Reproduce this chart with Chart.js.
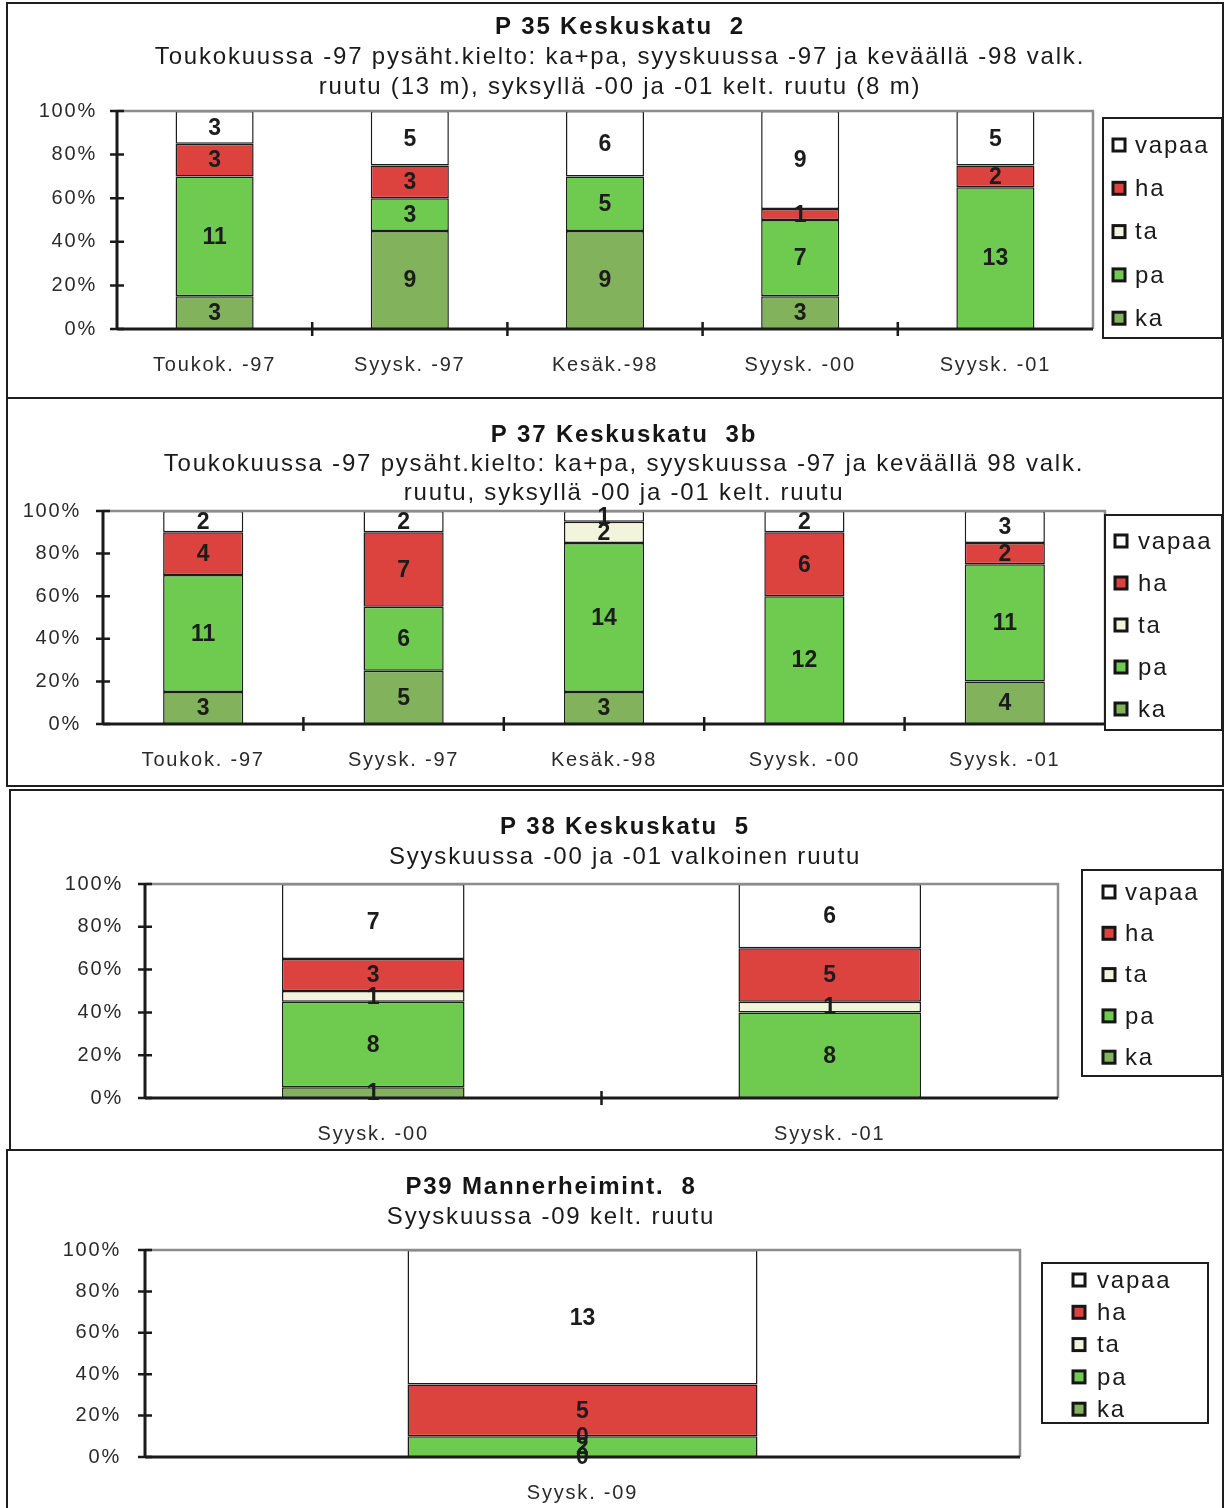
<!DOCTYPE html>
<html>
<head>
<meta charset="utf-8">
<script src="https://cdn.jsdelivr.net/npm/chart.js@4.4.0/dist/chart.umd.min.js"></script>
<style>
  body { margin: 0; background: #fff; width: 1224px; height: 1508px; overflow: hidden; position: relative; }
  .panel { position: absolute; box-sizing: border-box; border: 2px solid #1e1e1e; background: #fff; }
  .panel canvas { position: absolute; left: 0; top: 0; }
</style>
</head>
<body>
<div class="panel" style="left:6px;top:2px;width:1218px;height:398px"><canvas id="c35" width="1214" height="394"></canvas></div>
<div class="panel" style="left:6px;top:397px;width:1218px;height:390px"><canvas id="c37" width="1214" height="386"></canvas></div>
<div class="panel" style="left:9px;top:789px;width:1215px;height:363px"><canvas id="c38" width="1211" height="359"></canvas></div>
<div class="panel" style="left:6px;top:1149px;width:1218px;height:361px"><canvas id="c39" width="1214" height="357"></canvas></div>
<script>
// Vehicle counts per survey, stacked bottom-up: ka, pa, ta, ha, vapaa
const seriesLabels = ['ka', 'pa', 'ta', 'ha', 'vapaa'];
const seriesColors = ['#82b25c', '#6ecb50', '#f3f4dc', '#dc433e', '#ffffff'];
const yTickLabels = ['0%', '20%', '40%', '60%', '80%', '100%'];

// P 35 Keskuskatu 2
const p35Title = 'P 35 Keskuskatu  2';
const p35Subtitle = ['Toukokuussa -97 pysäht.kielto: ka+pa, syyskuussa -97 ja keväällä -98 valk.',
                     'ruutu (13 m), syksyllä -00 ja -01 kelt. ruutu (8 m)'];
const p35Categories = ['Toukok. -97', 'Syysk. -97', 'Kesäk.-98', 'Syysk. -00', 'Syysk. -01'];
const p35Ka = [3, 9, 9, 3, null];
const p35Pa = [11, 3, 5, 7, 13];
const p35Ta = [null, null, null, null, null];
const p35Ha = [3, 3, null, 1, 2];
const p35Vapaa = [3, 5, 6, 9, 5];

// P 37 Keskuskatu 3b
const p37Title = 'P 37 Keskuskatu  3b';
const p37Subtitle = ['Toukokuussa -97 pysäht.kielto: ka+pa, syyskuussa -97 ja keväällä 98 valk.',
                     'ruutu, syksyllä -00 ja -01 kelt. ruutu'];
const p37Categories = ['Toukok. -97', 'Syysk. -97', 'Kesäk.-98', 'Syysk. -00', 'Syysk. -01'];
const p37Ka = [3, 5, 3, null, 4];
const p37Pa = [11, 6, 14, 12, 11];
const p37Ta = [null, null, 2, null, null];
const p37Ha = [4, 7, null, 6, 2];
const p37Vapaa = [2, 2, 1, 2, 3];

// P 38 Keskuskatu 5
const p38Title = 'P 38 Keskuskatu  5';
const p38Subtitle = ['Syyskuussa -00 ja -01 valkoinen ruutu'];
const p38Categories = ['Syysk. -00', 'Syysk. -01'];
const p38Ka = [1, null];
const p38Pa = [8, 8];
const p38Ta = [1, 1];
const p38Ha = [3, 5];
const p38Vapaa = [7, 6];

// P39 Mannerheimint. 8
const p39Title = 'P39 Mannerheimint.  8';
const p39Subtitle = ['Syyskuussa -09 kelt. ruutu'];
const p39Categories = ['Syysk. -09'];
const p39Ka = [0];
const p39Pa = [2];
const p39Ta = [0];
const p39Ha = [5];
const p39Vapaa = [13];

Chart.defaults.font.family = '"Liberation Sans", Arial, sans-serif';
Chart.defaults.color = '#222';

const SPACING = '1.8px';
const spacingPlugin = {
  id: 'spacing',
  beforeInit(c) { c.ctx.letterSpacing = SPACING; },
  beforeLayout(c) { c.ctx.letterSpacing = SPACING; },
  beforeDraw(c) { c.ctx.letterSpacing = SPACING; }
};

// Re-centre the title and subtitle blocks on a given x position
const titleCentre = {
  id: 'titleCentre',
  afterLayout(c, args, o) {
    c.boxes.forEach(b => {
      if (b.options && typeof b.options.text !== 'undefined' && b.position === 'top') {
        const w = b.right - b.left;
        b.left = o.cx - w / 2;
        b.right = o.cx + w / 2;
      }
    });
  }
};

// Plot frame, axis lines and crossing tick marks
const axesPlugin = {
  id: 'axesFrame',
  afterDatasetsDraw(c) {
    const { ctx, chartArea: a, scales } = c;
    const n = c.data.labels.length;
    ctx.save();
    ctx.strokeStyle = '#8c8c8c';
    ctx.lineWidth = 2.5;
    ctx.beginPath();
    ctx.moveTo(a.left, a.top); ctx.lineTo(a.right, a.top); ctx.lineTo(a.right, a.bottom);
    ctx.stroke();
    ctx.strokeStyle = '#1a1a1a';
    ctx.lineWidth = 3;
    ctx.beginPath();
    ctx.moveTo(a.left, a.top - 1); ctx.lineTo(a.left, a.bottom);
    ctx.moveTo(a.left, a.bottom); ctx.lineTo(a.right, a.bottom);
    ctx.stroke();
    ctx.lineWidth = 2.5;
    ctx.beginPath();
    scales.y.ticks.forEach(t => {
      const y = scales.y.getPixelForValue(t.value);
      ctx.moveTo(a.left - 7, y); ctx.lineTo(a.left + 7, y);
    });
    const w = (a.right - a.left) / n;
    for (let i = 1; i < n; i++) {
      const x = a.left + w * i;
      ctx.moveTo(x, a.bottom - 7); ctx.lineTo(x, a.bottom + 7);
    }
    ctx.stroke();
    ctx.restore();
  }
};

// Count labels in the middle of each segment
const countLabels = {
  id: 'countLabels',
  afterDatasetsDraw(c) {
    const ctx = c.ctx;
    ctx.save();
    ctx.letterSpacing = '0px';
    ctx.font = 'bold 23px "Liberation Sans", Arial, sans-serif';
    ctx.fillStyle = '#1c1c1c';
    ctx.textAlign = 'center';
    ctx.textBaseline = 'middle';
    c.data.datasets.forEach((ds, di) => {
      c.getDatasetMeta(di).data.forEach((el, i) => {
        const v = ds.counts[i];
        if (v == null) return;
        ctx.fillText(String(v), el.x, (el.y + el.base) / 2 + 1);
      });
    });
    ctx.restore();
  }
};

// Boxed legend listing the series top-down
const boxLegend = {
  id: 'boxLegend',
  afterDraw(c, args, o) {
    const ctx = c.ctx;
    ctx.save();
    ctx.fillStyle = '#fff';
    ctx.fillRect(o.x, o.y, o.w, o.h);
    ctx.strokeStyle = '#1e1e1e';
    ctx.lineWidth = 2;
    ctx.strokeRect(o.x, o.y, o.w, o.h);
    ctx.font = '24px "Liberation Sans", Arial, sans-serif';
    ctx.textBaseline = 'middle';
    ctx.textAlign = 'left';
    const items = c.data.datasets.slice().reverse();
    items.forEach((ds, k) => {
      const cy = o.row0 + k * o.step;
      ctx.fillStyle = ds.backgroundColor;
      ctx.fillRect(o.sx, cy - 6, 12, 12);
      ctx.strokeStyle = '#151515';
      ctx.lineWidth = 3;
      ctx.strokeRect(o.sx, cy - 6, 12, 12);
      ctx.fillStyle = '#1a1a1a';
      ctx.fillText(ds.label, o.tx, cy + 1);
    });
    ctx.restore();
  }
};

function buildChart(id, title, subtitle, categories, series, f) {
  const totals = categories.map((_, i) => series.reduce((s, arr) => s + (arr[i] || 0), 0));
  const datasets = series.map((arr, k) => ({
    label: seriesLabels[k],
    counts: arr,
    data: arr.map((v, i) => v == null ? null : v / totals[i] * 100),
    backgroundColor: seriesColors[k],
    borderColor: '#1c1c1c',
    borderWidth: 1.5,
    borderSkipped: false,
    barPercentage: 0.4,
    categoryPercentage: 1
  }));
  return new Chart(document.getElementById(id), {
    type: 'bar',
    data: { labels: categories, datasets },
    plugins: [spacingPlugin, titleCentre, axesPlugin, countLabels, boxLegend],
    options: {
      responsive: false,
      animation: false,
      layout: { padding: { top: 0, left: 0, right: f.padRight, bottom: 0 } },
      plugins: {
        legend: { display: false },
        tooltip: { enabled: false },
        title: {
          display: true, text: title, color: '#151515',
          font: { size: 24, weight: 'bold', lineHeight: '30px' },
          padding: { top: f.titleTop, bottom: 0 }
        },
        subtitle: {
          display: true, text: subtitle, color: '#1a1a1a',
          font: { size: 24, lineHeight: f.subLine + 'px' },
          padding: { top: 0, bottom: f.subBottom }
        },
        titleCentre: { cx: f.titleX },
        boxLegend: f.legend
      },
      scales: {
        x: {
          stacked: true,
          grid: { display: false, drawTicks: false },
          border: { display: false },
          ticks: { font: { size: 20 }, color: '#2a2a2a', padding: 24, maxRotation: 0, autoSkip: false },
          afterFit: s => { s.height = f.xHeight; }
        },
        y: {
          stacked: true, min: 0, max: 100,
          grid: { display: false, drawTicks: false },
          border: { display: false },
          ticks: { stepSize: 20, font: { size: 20 }, color: '#2a2a2a', padding: f.yPad,
                   callback: v => yTickLabels[Math.round(v / 20)] },
          afterFit: s => { s.width = f.yWidth; }
        }
      }
    }
  });
}

buildChart('c35', p35Title, p35Subtitle, p35Categories, [p35Ka, p35Pa, p35Ta, p35Ha, p35Vapaa], {
  padRight: 129, titleTop: 8, subLine: 30, subBottom: 9, xHeight: 69, yWidth: 109, yPad: 20, titleX: 612,
  legend: { x: 1095, y: 114, w: 119, h: 220, row0: 141, step: 43.3, sx: 1105, tx: 1127 }
});
buildChart('c37', p37Title, p37Subtitle, p37Categories, [p37Ka, p37Pa, p37Ta, p37Ha, p37Vapaa], {
  padRight: 117, titleTop: 21, subLine: 29, subBottom: 3, xHeight: 61, yWidth: 95, yPad: 22, titleX: 616,
  legend: { x: 1097, y: 116, w: 117, h: 215, row0: 142, step: 42, sx: 1107, tx: 1130 }
});
buildChart('c38', p38Title, p38Subtitle, p38Categories, [p38Ka, p38Pa, p38Ta, p38Ha, p38Vapaa], {
  padRight: 164, titleTop: 21, subLine: 30, subBottom: 12, xHeight: 52, yWidth: 134, yPad: 22, titleX: 614,
  legend: { x: 1071, y: 79, w: 140, h: 206, row0: 101, step: 41.3, sx: 1092, tx: 1114 }
});
buildChart('c39', p39Title, p39Subtitle, p39Categories, [p39Ka, p39Pa, p39Ta, p39Ha, p39Vapaa], {
  padRight: 202, titleTop: 21, subLine: 30, subBottom: 18, xHeight: 51, yWidth: 137, yPad: 24, titleX: 543,
  legend: { x: 1034, y: 112, w: 166, h: 160, row0: 129, step: 32.3, sx: 1065, tx: 1089 }
});
</script>
</body>
</html>
